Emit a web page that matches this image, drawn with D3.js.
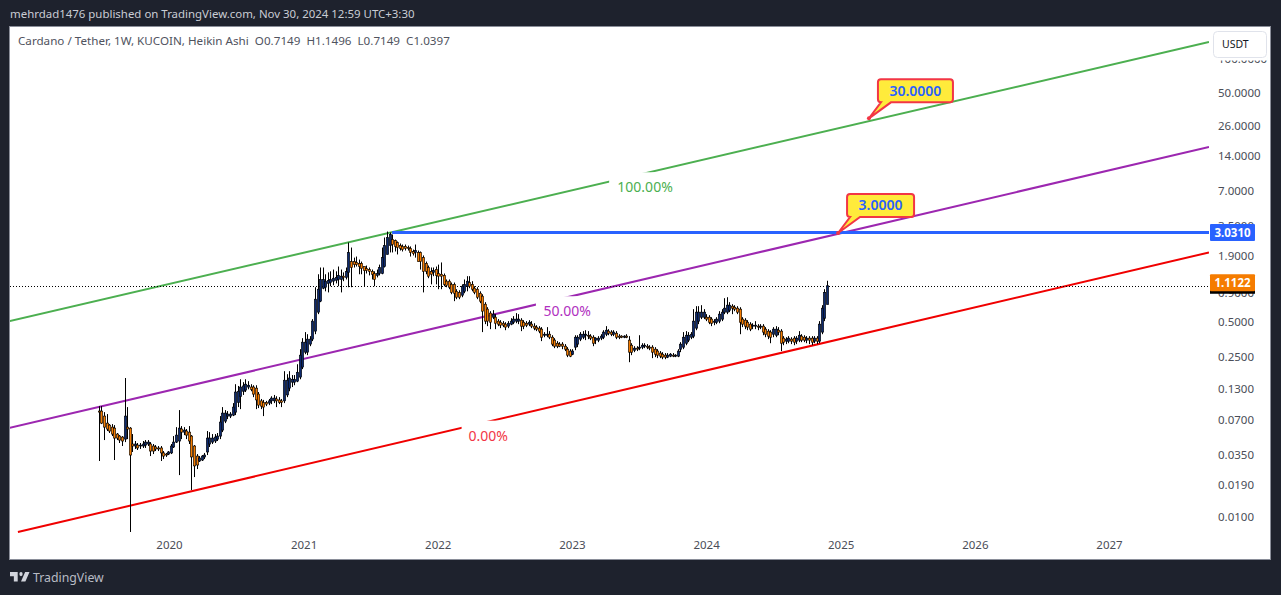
<!DOCTYPE html>
<html><head><meta charset="utf-8">
<script src="https://cdn.jsdelivr.net/npm/d3@7"></script>
<style>
html,body{margin:0;padding:0;background:#1e222d;overflow:hidden}
svg{display:block}
text{font-family:"Noto Sans",Tahoma,sans-serif}
</style></head><body>
<svg id="c" width="1281" height="595"></svg>
<script>
const headerText="mehrdad1476 published on TradingView.com, Nov 30, 2024 12:59 UTC+3:30";
const legendText="Cardano / Tether, 1W, KUCOIN, Heikin Ashi\u00a0\u00a0O0.7149\u00a0\u00a0H1.1496\u00a0\u00a0L0.7149\u00a0\u00a0C1.0397";
const lastBarDate="2024-11-25";
const opens=[.0839,.0839,.0759,.0659,.0633,.0608,.0596,.0529,.0508,.0498,.0478,.0608,.0596,.0433,.0416,.0424,.0416,.0416,.0424,.0433,
.0433,.0416,.0408,.04,.04,.0362,.0354,.0354,.0362,.0408,.045,.046,.0585,.055,.0562,.055,.0508,.0416,.034,.0308,
.0314,.0334,.0369,.0433,.045,.046,.0478,.0508,.0573,.0686,.0759,.0759,.0774,.0822,.1,.113,.125,.128,.136,.136,
.136,.133,.118,.103,.1,.1,.0985,.103,.103,.107,.105,.103,.103,.116,.133,.15,.15,.153,.166,.203,
.274,.274,.322,.356,.418,.612,.763,.99,1.01,1.09,1.11,1.14,1.16,1.18,1.18,1.26,1.23,1.36,1.69,1.69,
1.66,1.63,1.63,1.53,1.47,1.44,1.39,1.33,1.28,1.33,1.33,1.53,1.95,2.33,2.63,2.58,2.48,2.33,2.29,2.29,
2.24,2.2,2.07,2.03,2.03,2.03,1.83,1.63,1.5,1.39,1.36,1.44,1.33,1.31,1.28,1.14,1.14,1.07,1.07,.93,
.91,.86,.93,1.03,1.11,1.07,.99,.97,.895,.843,.718,.65,.6,.553,.553,.511,.5,.49,.481,.462,
.481,.5,.511,.511,.521,.5,.49,.481,.481,.462,.453,.444,.435,.385,.385,.393,.37,.349,.328,.322,
.322,.309,.291,.28,.263,.303,.322,.356,.37,.385,.385,.378,.37,.349,.349,.363,.37,.393,.418,.41,
.393,.401,.378,.378,.37,.378,.349,.315,.285,.297,.297,.303,.309,.309,.303,.303,.291,.28,.269,.263,
.258,.248,.253,.258,.253,.253,.291,.303,.328,.349,.37,.378,.444,.511,.553,.553,.553,.553,.532,.5,
.5,.511,.532,.612,.612,.637,.69,.676,.663,.65,.532,.521,.5,.481,.462,.462,.462,.453,.462,.435,
.418,.41,.393,.385,.426,.418,.363,.342,.342,.356,.363,.342,.349,.378,.37,.349,.363,.363,.342,.363,
.342,.41,.542,.7149];
const highs=[.0927,.0927,.0822,.079,.0646,.0646,.0633,.054,.0518,.0508,.163,.0909,.0608,.0529,.046,.0442,.0442,.046,.0469,.0469,
.045,.0433,.0424,.0416,.0416,.0376,.0362,.0376,.0433,.0508,.0608,.0856,.0621,.0608,.0585,.0621,.0518,.0424,.0354,.034,
.0347,.0362,.0562,.055,.0529,.0529,.054,.0759,.0909,.0856,.0839,.0822,.0985,.144,.139,.159,.15,.159,.153,.144,
.141,.141,.123,.107,.105,.103,.107,.113,.116,.113,.111,.107,.187,.176,.187,.173,.173,.215,.291,.363,
.41,.393,.378,.532,1.01,1.31,1.5,1.5,1.31,1.36,1.39,1.44,1.39,1.53,1.44,1.36,1.5,2.48,2.24,1.83,
1.87,1.76,1.69,1.53,1.56,1.5,1.44,1.39,1.44,1.59,2.24,2.74,3.09,3.03,2.91,2.63,2.53,2.43,2.38,2.38,
2.33,2.29,2.15,2.38,2.11,2.07,1.91,1.69,1.56,1.5,1.5,1.53,1.59,1.66,1.33,1.18,1.18,1.11,1.11,.97,
.95,1.07,1.18,1.26,1.26,1.14,1.03,1.01,.93,.877,.748,.676,.624,.637,.588,.532,.521,.511,.5,.511,
.542,.565,.6,.588,.542,.521,.511,.521,.511,.49,.471,.462,.453,.41,.453,.418,.385,.363,.342,.335,
.335,.322,.303,.291,.291,.385,.385,.41,.418,.426,.418,.393,.385,.37,.378,.393,.426,.462,.435,.426,
.426,.418,.393,.385,.385,.393,.378,.328,.309,.309,.385,.328,.328,.322,.315,.315,.303,.291,.28,.274,
.269,.269,.269,.269,.263,.291,.335,.41,.418,.41,.41,.65,.69,.69,.704,.65,.588,.576,.553,.532,
.553,.624,.65,.81,.826,.748,.718,.704,.69,.676,.553,.542,.521,.5,.49,.511,.481,.481,.481,.453,
.435,.426,.453,.462,.453,.435,.378,.37,.378,.37,.378,.378,.418,.393,.385,.378,.378,.378,.378,.378,
.511,.704,.97,1.1496];
const lows=[.0308,.0646,.0469,.0562,.054,.0508,.0314,.0469,.0442,.0416,.045,.0478,.0074,.0369,.0392,.0384,.0392,.04,.04,.0416,
.034,.0354,.0376,.0376,.0308,.032,.0334,.0347,.0354,.04,.0442,.0232,.0478,.0518,.0478,.0433,.0172,.0223,.0262,.0302,
.0308,.032,.0347,.0408,.0433,.0442,.046,.0478,.055,.0659,.0714,.0729,.0759,.0774,.0909,.0873,.116,.123,.13,.125,
.111,.0873,.0891,.0873,.0759,.0927,.0946,.0965,.0985,.0909,.0965,.0909,.0985,.111,.125,.136,.141,.15,.159,.195,
.263,.258,.309,.342,.393,.588,.748,.97,.93,.91,1.03,1.05,1.09,1.03,.91,1.14,1.18,1.01,1.01,1.5,
1.53,1.31,1.31,1.03,1.33,1.28,1.18,1.03,1.23,1.28,1.31,1.5,1.95,2.03,2.03,2.07,1.95,2.11,2.07,2.11,
2.11,1.87,1.91,1.83,1.69,1.44,.91,1.31,1.21,1.07,1.26,1.07,.97,.97,1.03,1.01,.97,.877,.763,.794,
.794,.826,.895,.93,.99,.93,.877,.794,.733,.41,.481,.462,.435,.532,.435,.462,.444,.453,.426,.444,
.471,.481,.49,.481,.418,.435,.453,.462,.444,.426,.418,.401,.342,.37,.37,.356,.309,.297,.297,.303,
.291,.28,.248,.248,.258,.285,.303,.342,.356,.349,.356,.349,.309,.322,.335,.349,.356,.378,.385,.378,
.378,.356,.356,.363,.363,.363,.224,.258,.274,.28,.285,.291,.297,.291,.285,.243,.248,.243,.243,.238,
.238,.243,.248,.248,.248,.248,.274,.291,.315,.335,.356,.363,.426,.481,.532,.532,.511,.481,.462,.471,
.481,.49,.511,.588,.588,.612,.588,.624,.588,.393,.453,.435,.426,.418,.435,.435,.426,.435,.385,.37,
.356,.328,.37,.37,.385,.28,.315,.322,.328,.322,.315,.322,.335,.335,.335,.328,.322,.315,.328,.322,
.328,.393,.511,.7149];
const closes=[.0822,.0659,.0608,.0585,.0562,.0529,.0488,.0488,.0469,.046,.0759,.0585,.0347,.0416,.0433,.04,.0424,.0433,.045,.045,
.0376,.0376,.0392,.0392,.0362,.034,.0347,.0369,.0416,.045,.0518,.0596,.055,.0573,.0518,.046,.0334,.0279,.0284,.0327,
.034,.0347,.0488,.0488,.0488,.0498,.0508,.0673,.0806,.0806,.079,.079,.0909,.123,.125,.136,.139,.144,.141,.13,
.118,.105,.0946,.0927,.0909,.0965,.103,.109,.109,.103,.1,.1,.156,.156,.163,.159,.159,.183,.258,.335,
.335,.356,.356,.511,.794,.97,1.18,1.18,1.14,1.16,1.18,1.21,1.23,1.28,1.26,1.23,1.39,2.03,1.5,1.59,
1.59,1.53,1.47,1.41,1.41,1.39,1.31,1.18,1.33,1.5,1.83,2.33,2.74,2.91,2.38,2.29,2.24,2.2,2.15,2.2,
2.2,2.03,1.99,2.11,1.69,1.69,1.39,1.39,1.26,1.31,1.41,1.28,1.26,1.26,1.07,1.05,1.01,.91,.895,.826,
.826,1.03,1.07,1.14,1.03,.97,.91,.826,.763,.624,.511,.511,.5,.588,.49,.481,.471,.471,.453,.49,
.511,.532,.532,.532,.462,.462,.471,.5,.462,.444,.435,.418,.37,.393,.393,.37,.322,.309,.309,.309,
.309,.291,.258,.253,.28,.37,.37,.393,.393,.393,.378,.363,.328,.363,.363,.378,.41,.426,.401,.393,
.41,.37,.37,.37,.378,.37,.274,.274,.297,.291,.303,.315,.315,.303,.297,.274,.263,.258,.253,.248,
.248,.258,.263,.253,.258,.28,.322,.37,.385,.385,.393,.511,.612,.612,.612,.612,.532,.5,.49,.511,
.532,.588,.612,.663,.704,.704,.663,.65,.612,.5,.481,.462,.453,.435,.471,.471,.453,.462,.41,.393,
.378,.37,.435,.435,.41,.328,.335,.356,.363,.342,.335,.363,.385,.349,.349,.363,.349,.335,.363,.342,
.481,.663,.91,1.0397];
const yTicks=[100,50,26,14,7,3.5,1.9,0.9,0.5,0.25,0.13,0.07,0.035,0.019,0.01];
const xTickYears=[2020,2021,2022,2023,2024,2025,2026,2027];
const channelDates=["2018-10-25","2027-09-30"];
const upperPrices=[0.511,139];
const middlePrices=[0.06,16.9];
const lowerDates=["2018-11-16","2027-09-30"];
const lowerPrices=[0.0074,2.03];
const fibLabels=["100.00%","50.00%","0.00%"];
const fibLabelDates=["2023-07-19","2022-12-19","2022-05-18"];
const fibLabelColors=["#4caf50","#b030c0","#f23645"];
const hline={date:"2021-08-30",price:3.031};
const lastClose=1.0397, lastPrice=1.1122;
const callouts=[{date:"2025-03-19",price:30,text:"30.0000"},{date:"2024-12-25",price:3,text:"3.0000"}];

const P=d=>new Date(d+"T00:00:00Z");
const svg=d3.select("#c");
const L=10,R=1270,T=27,B=559,PR=1209;
const x=d3.scaleUtc().domain([P("2020-01-01"),P("2027-01-01")]).range([169,1109]);
const y=d3.scaleLog().domain([100,0.01]).range([58.4,517]);
const n=opens.length;
const dates=opens.map((_,i)=>new Date(P(lastBarDate).getTime()-7*864e5*(n-1-i)));
const bars=opens.map((o,i)=>({d:dates[i],o,h:highs[i],l:lows[i],c:closes[i]}));

svg.append("rect").attr("x",L).attr("y",T).attr("width",R-L).attr("height",B-T).attr("fill","#fff");
svg.append("rect").attr("x",L-.5).attr("y",T-.5).attr("width",R-L+1).attr("height",B-T+1).attr("fill","none").attr("stroke","#8a8e99").attr("stroke-width",1);
svg.append("clipPath").attr("id","pane").append("rect").attr("x",L).attr("y",T).attr("width",PR-L).attr("height",B-T);
svg.append("text").attr("x",10).attr("y",18).attr("fill","#c9ccd4").attr("font-size",11.45).text(headerText);
svg.append("text").attr("x",18).attr("y",45).attr("fill","#50535e").attr("font-size",11.65).text(legendText);

const g=svg.append("g").attr("clip-path","url(#pane)");
const line=d3.line().x(d=>x(d[0])).y(d=>y(d[1]));
function chan(ds,ps,col){g.append("path").attr("d",line([[P(ds[0]),ps[0]],[P(ds[1]),ps[1]]])).attr("fill","none").attr("stroke",col).attr("stroke-width",2);}
chan(channelDates,upperPrices,"#4caf50");
chan(channelDates,middlePrices,"#9c27b0");
chan(lowerDates,lowerPrices,"#f00000");

// fib labels sit just below their lines and blank out the line behind them
[[upperPrices,channelDates],[middlePrices,channelDates],[lowerPrices,lowerDates]].forEach(([ps,ds],i)=>{
 const cx=x(P(fibLabelDates[i]));
 const a=x(P(ds[0])),b=x(P(ds[1])),ya=y(ps[0]),yb=y(ps[1]);
 const yl=ya+(yb-ya)*(cx-a)/(b-a)+14;
 const w=fibLabels[i].length*9.4;
 g.append("rect").attr("x",cx-w/2-3).attr("y",yl-15).attr("width",w+6).attr("height",30).attr("fill","#fff");
 g.append("text").attr("x",cx).attr("y",yl+5).attr("text-anchor","middle").attr("fill",fibLabelColors[i]).attr("font-size",14).text(fibLabels[i]);
});

// last-price dotted line
g.append("line").attr("x1",L).attr("x2",PR).attr("y1",Math.round(y(lastClose))+.5).attr("y2",Math.round(y(lastClose))+.5)
 .attr("stroke","#000").attr("stroke-dasharray","1 2");

// candles
const cg=g.append("g");
cg.selectAll("line").data(bars).join("line")
 .attr("x1",d=>Math.round(x(d.d))+.5).attr("x2",d=>Math.round(x(d.d))+.5)
 .attr("y1",d=>y(d.h)).attr("y2",d=>y(d.l)).attr("stroke","#000").attr("stroke-width",1);
cg.selectAll("rect").data(bars).join("rect")
 .attr("x",d=>Math.round(x(d.d))-.7).attr("width",2.4)
 .attr("y",d=>Math.min(y(d.o),y(d.c)))
 .attr("height",d=>Math.max(.5,Math.abs(y(d.o)-y(d.c))))
 .attr("fill",d=>d.c>=d.o?"#0d2a6e":"#f57c00").attr("stroke","#000").attr("stroke-width",.6);

// horizontal level
const hy=Math.round(y(hline.price))+.5;
g.append("line").attr("x1",x(P(hline.date))).attr("x2",PR).attr("y1",hy).attr("y2",hy)
 .attr("stroke","#2962ff").attr("stroke-width",3);

// callouts
callouts.forEach(c=>{
 const tx=x(P(c.date)),ty=y(c.price);
 const bw=c.text.length==7?75:67, bx=tx+9, by=ty-39, bh=23;
 const path=d3.path();
 path.moveTo(bx+3,by);path.lineTo(bx+bw-3,by);path.quadraticCurveTo(bx+bw,by,bx+bw,by+3);
 path.lineTo(bx+bw,by+bh-3);path.quadraticCurveTo(bx+bw,by+bh,bx+bw-3,by+bh);
 path.lineTo(bx+13,by+bh);path.lineTo(tx,ty);path.lineTo(bx+3,by+bh);
 path.quadraticCurveTo(bx,by+bh,bx,by+bh-3);path.lineTo(bx,by+3);path.quadraticCurveTo(bx,by,bx+3,by);path.closePath();
 svg.append("path").attr("d",path.toString()).attr("fill","#ffeb3b").attr("stroke","#f23645").attr("stroke-width",2);
 svg.append("circle").attr("cx",tx).attr("cy",ty).attr("r",2).attr("fill","#f23645");
 svg.append("text").attr("x",bx+bw/2).attr("y",by+16.5).attr("text-anchor","middle").attr("fill","#2962ff").attr("font-size",14).attr("font-weight",600).text(c.text);
});

// axes
const ya=svg.append("g").attr("transform","translate(1215,0)").call(d3.axisRight(y).tickValues(yTicks).tickFormat(d3.format(".4f")).tickSize(0).tickPadding(3));
ya.select(".domain").remove();
ya.selectAll("text").attr("font-size",11.5).attr("fill","#4a4d57").style("font-family",'"Noto Sans",sans-serif');
const xa=svg.append("g").attr("transform","translate(0,541)").call(d3.axisBottom(x).tickValues(xTickYears.map(v=>P(v+"-01-01"))).tickFormat(d3.utcFormat("%Y")).tickSize(0).tickPadding(0));
xa.select(".domain").remove();
xa.selectAll("text").attr("font-size",11.5).attr("fill","#4a4d57").style("font-family",'"Noto Sans",sans-serif');

// USDT button, with the white margin that hides most of the top tick
svg.append("rect").attr("x",1213).attr("y",50).attr("width",54).attr("height",10.5).attr("fill","#fff");
svg.append("rect").attr("x",1213.5).attr("y",31.5).attr("width",53).attr("height",26).attr("rx",4).attr("fill","#fff").attr("stroke","#e0e3eb");
svg.append("text").attr("x",1222).attr("y",48).attr("fill","#131722").attr("font-size",10.5).text("USDT");

// price tags
function tag(v,yc,col){
 svg.append("rect").attr("x",1210).attr("y",yc-8.5).attr("width",45).attr("height",17).attr("rx",1).attr("fill",col);
 svg.append("text").attr("x",1232.5).attr("y",yc+4).attr("text-anchor","middle").attr("fill","#fff").attr("font-size",11.5).attr("font-weight",700).text(v);
}
tag(d3.format(".4f")(hline.price),hy,"#2962ff");
svg.append("rect").attr("x",1210).attr("y",y(lastClose)).attr("width",45).attr("height",8).attr("fill","#000");
tag(d3.format(".4f")(lastPrice),y(lastClose)-3,"#f57c00");

// logo
const lg=svg.append("g").attr("transform","translate(10,568) scale(.55,.68)").attr("fill","#d1d4dc");
lg.append("path").attr("d","M14 6H0v6h7v8h7V6z M28 20h-8l7.5-14h8L28 20z");
lg.append("circle").attr("cx",20).attr("cy",9).attr("r",3);
svg.append("text").attr("x",33).attr("y",582).attr("fill","#b8bbc4").attr("font-size",12.3).text("TradingView");
</script></body></html>
